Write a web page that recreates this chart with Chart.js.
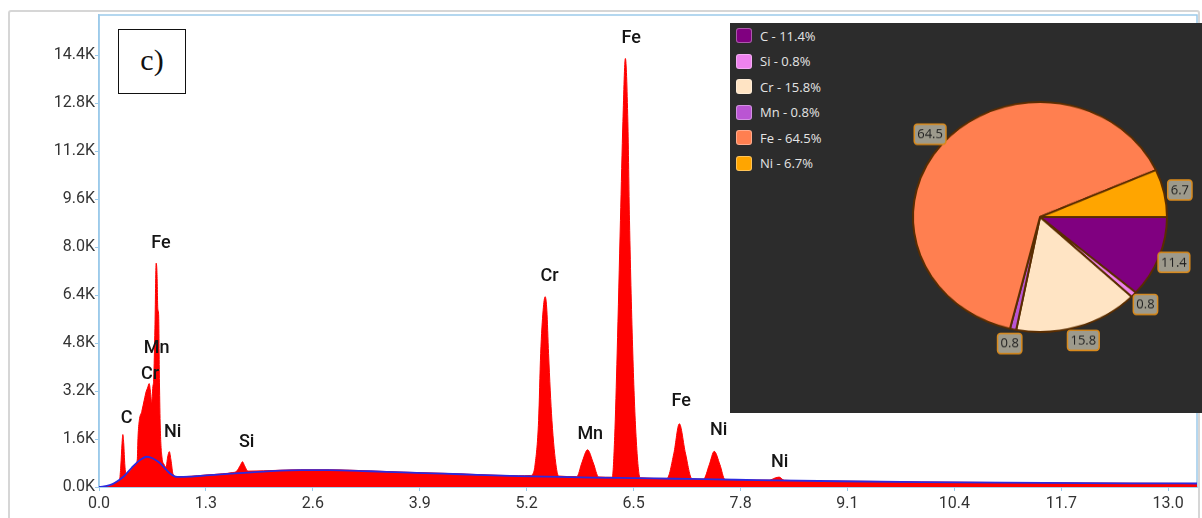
<!DOCTYPE html>
<html><head><meta charset="utf-8">
<script src="https://cdn.jsdelivr.net/npm/chart.js@4"></script>
<style>
html,body{margin:0;padding:0;background:#fff;overflow:hidden;}
#wrap{position:relative;width:1202px;height:518px;overflow:hidden;}
#frame{position:absolute;left:8px;top:10px;width:1192px;height:530px;border:2px solid #d6d6d6;border-radius:3px;box-sizing:border-box;}
#main{position:absolute;left:0;top:0;}
#tag{position:absolute;left:118px;top:29px;width:68px;height:65px;border:1.6px solid #111;box-sizing:border-box;background:#fff;font-family:"Liberation Serif";font-size:30px;display:flex;align-items:center;justify-content:center;color:#111;padding-bottom:4px;}
#panel{position:absolute;left:730px;top:23px;width:472px;height:390px;background:#2c2c2c;overflow:hidden;}
#legend{position:absolute;left:6px;top:0px;font-family:"Open Sans";font-size:13px;color:#e4e4e4;}
.item{height:25.5px;display:flex;align-items:center;}
.sw{width:16px;height:15px;border-radius:3px;border:1px solid rgba(255,255,255,0.35);margin-right:8px;box-sizing:border-box;}
#pie{position:absolute;left:130px;top:14.3px;transform:scaleY(0.905);transform-origin:50% 50%;}
</style></head>
<body>
<div id="wrap">
  <div id="frame"></div>
  <canvas id="main" width="1202" height="518" style="width:1202px;height:518px"></canvas>
  <div id="tag">c)</div>
  <div id="panel">
    <div id="legend"></div>
    <canvas id="pie" width="360" height="360" style="width:360px;height:360px"></canvas>
  </div>
</div>
<script>
// ---------- EDS spectrum data (energy keV, counts) ----------
const energyKeV = [0.00,0.08,0.15,0.22,0.25,0.265,0.28,0.29,0.30,0.315,0.33,0.38,0.44,0.465,0.475,0.49,0.52,0.55,0.575,0.59,0.61,0.625,0.64,0.655,0.665,0.68,0.695,0.705,0.715,0.725,0.735,0.745,0.765,0.79,0.815,0.835,0.855,0.875,0.90,0.945,1.10,1.30,1.50,1.62,1.675,1.72,1.745,1.77,1.81,2.00,2.45,2.80,3.30,3.70,4.20,4.60,5.10,5.25,5.28,5.30,5.345,5.37,5.40,5.425,5.445,5.466,5.507,5.56,5.59,5.81,5.87,5.94,6.01,6.075,6.24,6.27,6.30,6.34,6.37,6.40,6.43,6.45,6.49,6.53,6.58,6.905,6.99,7.056,7.13,7.21,7.35,7.42,7.48,7.55,7.61,8.15,8.22,8.27,8.33,9.00,10.0,11.0,12.0,13.0,13.35];
const counts    = [0,15,70,180,250,700,1450,1750,1480,700,420,560,760,900,1700,2220,2520,2900,3200,3300,3450,3200,2800,3350,3600,5300,7470,7150,5950,5750,3500,2000,1000,760,660,1000,1180,900,430,340,355,400,440,480,530,730,840,710,530,540,575,575,535,495,455,415,375,385,460,700,2220,4450,5900,6350,5900,4450,2220,660,365,345,800,1240,800,335,325,1680,4470,8900,12200,14300,12200,8900,4470,1680,305,285,1130,2110,1130,275,265,740,1190,740,255,230,300,330,225,195,168,148,132,122,118];
// background fit (blue line)
const bgEnergyKeV = [0,0.13,0.2,0.3,0.4,0.5,0.58,0.65,0.74,0.86,0.95,1.1,1.3,1.6,2.0,2.45,2.8,3.3,3.7,4.2,4.6,5.1,5.6,6.0,6.5,7.0,7.5,8.0,9.0,10.0,11.0,12.0,13.0,13.35];
const bgCounts    = [0,60,150,350,650,900,1010,960,800,460,335,345,385,445,515,565,565,525,485,445,405,365,335,315,295,275,255,228,192,166,146,130,120,116];
// axis ticks
const xMax = 13.35, yMax = 15750;
const xTicks = [0.0,1.3,2.6,3.9,5.2,6.5,7.8,9.1,10.4,11.7,13.0];
const yTicks = [0,1600,3200,4800,6400,8000,9600,11200,12800,14400];
const yTickLabels = ['0.0K','1.6K','3.2K','4.8K','6.4K','8.0K','9.6K','11.2K','12.8K','14.4K'];
// peak annotations
const peakNames  = ['C','Cr','Mn','Fe','Ni','Si','Cr','Mn','Fe','Fe','Ni','Ni'];
const peakLabelE = [0.337,0.62,0.70,0.754,0.896,1.796,5.478,5.973,6.472,7.08,7.534,8.276];
const peakLabelC = [2300,3740,4630,8110,1820,1490,7020,1743,14965,2853,1887,810];
// composition pie
const elements = ['C','Si','Cr','Mn','Fe','Ni'];
const percents = [11.4,0.8,15.8,0.8,64.5,6.7];
const pieColors = ['#800080','#EE82EE','#FFE4C4','#BA55D3','#FF7F50','#FFA500'];

const axisBlue = '#9ccaea';

const framePlugin = {
  id:'frame',
  beforeDatasetsDraw(chart){
    const a = chart.chartArea, ctx = chart.ctx;
    ctx.save(); ctx.strokeStyle = axisBlue; ctx.lineWidth = 1.5;
    ctx.strokeRect(a.left, a.top, a.right - a.left, a.bottom - a.top);
    ctx.restore();
  }
};
const peakLabelPlugin = {
  id:'peakLabels',
  afterDatasetsDraw(chart){
    const ctx = chart.ctx, xs = chart.scales.x, ys = chart.scales.y;
    ctx.save();
    ctx.font = '500 18px Roboto';
    ctx.fillStyle = '#151515'; ctx.textAlign = 'center'; ctx.textBaseline = 'middle';
    peakNames.forEach((n,i)=>{
      ctx.fillText(n, xs.getPixelForValue(peakLabelE[i]), ys.getPixelForValue(peakLabelC[i]));
    });
    ctx.restore();
  }
};

new Chart(document.getElementById('main'), {
  type:'line',
  data:{
    datasets:[
      {data: bgEnergyKeV.map((e,i)=>({x:e,y:bgCounts[i]})), borderColor:'#2b2be0', borderWidth:1.8, pointRadius:0, fill:false, order:0, cubicInterpolationMode:'monotone'},
      {data: energyKeV.map((e,i)=>({x:e,y:counts[i]})), borderColor:'#ff0000', backgroundColor:'#ff0000', borderWidth:1, pointRadius:0, fill:'origin', order:1, cubicInterpolationMode:'monotone'}
    ]
  },
  options:{
    responsive:false, animation:false, events:[],
    layout:{padding:{top:15,right:5,left:0,bottom:0}},
    plugins:{legend:{display:false}, tooltip:{enabled:false}},
    scales:{
      x:{type:'linear', min:0, max:xMax,
        afterFit(s){ s.height = 31; },
        afterBuildTicks(s){ s.ticks = xTicks.map(v=>({value:v})); },
        grid:{display:true, drawOnChartArea:false, tickLength:4, color:axisBlue},
        border:{display:true, color:axisBlue, width:1.5},
        ticks:{maxRotation:0, autoSkip:false, padding:3, color:'#333',
          font:{family:'Roboto', size:16}, callback:v=>Number(v).toFixed(1)}
      },
      y:{type:'linear', min:0, max:yMax,
        afterFit(s){ s.width = 99; },
        afterBuildTicks(s){ s.ticks = yTicks.map(v=>({value:v})); },
        grid:{display:true, drawOnChartArea:false, tickLength:4, color:axisBlue},
        border:{display:true, color:axisBlue, width:1.5},
        ticks:{autoSkip:false, padding:0, color:'#333',
          font:{family:'Roboto', size:16}, callback:(v,i)=>yTickLabels[i]}
      }
    }
  },
  plugins:[framePlugin, peakLabelPlugin]
});

// legend (HTML)
const lg = document.getElementById('legend');
elements.forEach((el,i)=>{
  const d = document.createElement('div'); d.className='item';
  const s = document.createElement('div'); s.className='sw'; s.style.background = pieColors[i];
  const t = document.createElement('span'); t.textContent = el + ' - ' + percents[i].toFixed(1) + '%';
  d.appendChild(s); d.appendChild(t); lg.appendChild(d);
});

const SY = 0.905;
const pieLabelPlugin = {
  id:'pieLabels',
  afterDatasetsDraw(chart){
    const ctx = chart.ctx, meta = chart.getDatasetMeta(0);
    meta.data.forEach((arc,i)=>{
      const p = arc.getProps(['x','y','startAngle','endAngle','outerRadius'], true);
      const a = (p.startAngle + p.endAngle)/2, r = p.outerRadius + 16;
      const x = p.x + Math.cos(a)*r, y = p.y + Math.sin(a)*r;
      ctx.save(); ctx.translate(x,y); ctx.scale(1, 1/SY);
      const t = percents[i].toFixed(1);
      ctx.font = '13px "Open Sans"';
      const w = ctx.measureText(t).width + 6, h = 20;
      ctx.beginPath(); ctx.roundRect(-w/2, -h/2, w, h, 3);
      ctx.fillStyle = '#9d9a8c'; ctx.fill();
      ctx.lineWidth = 1.5; ctx.strokeStyle = '#d98a1c'; ctx.stroke();
      ctx.fillStyle = '#1e1e1e'; ctx.textAlign='center'; ctx.textBaseline='middle';
      ctx.fillText(t, 0, 0.5);
      ctx.restore();
    });
  }
};

new Chart(document.getElementById('pie'), {
  type:'pie',
  data:{labels: elements, datasets:[{data: percents, backgroundColor: pieColors, borderColor:'#5a2d00', borderWidth:2}]},
  options:{
    responsive:false, animation:false, events:[],
    rotation:90,
    layout:{padding:52},
    plugins:{legend:{display:false}, tooltip:{enabled:false}}
  },
  plugins:[pieLabelPlugin]
});
</script>
</body></html>
